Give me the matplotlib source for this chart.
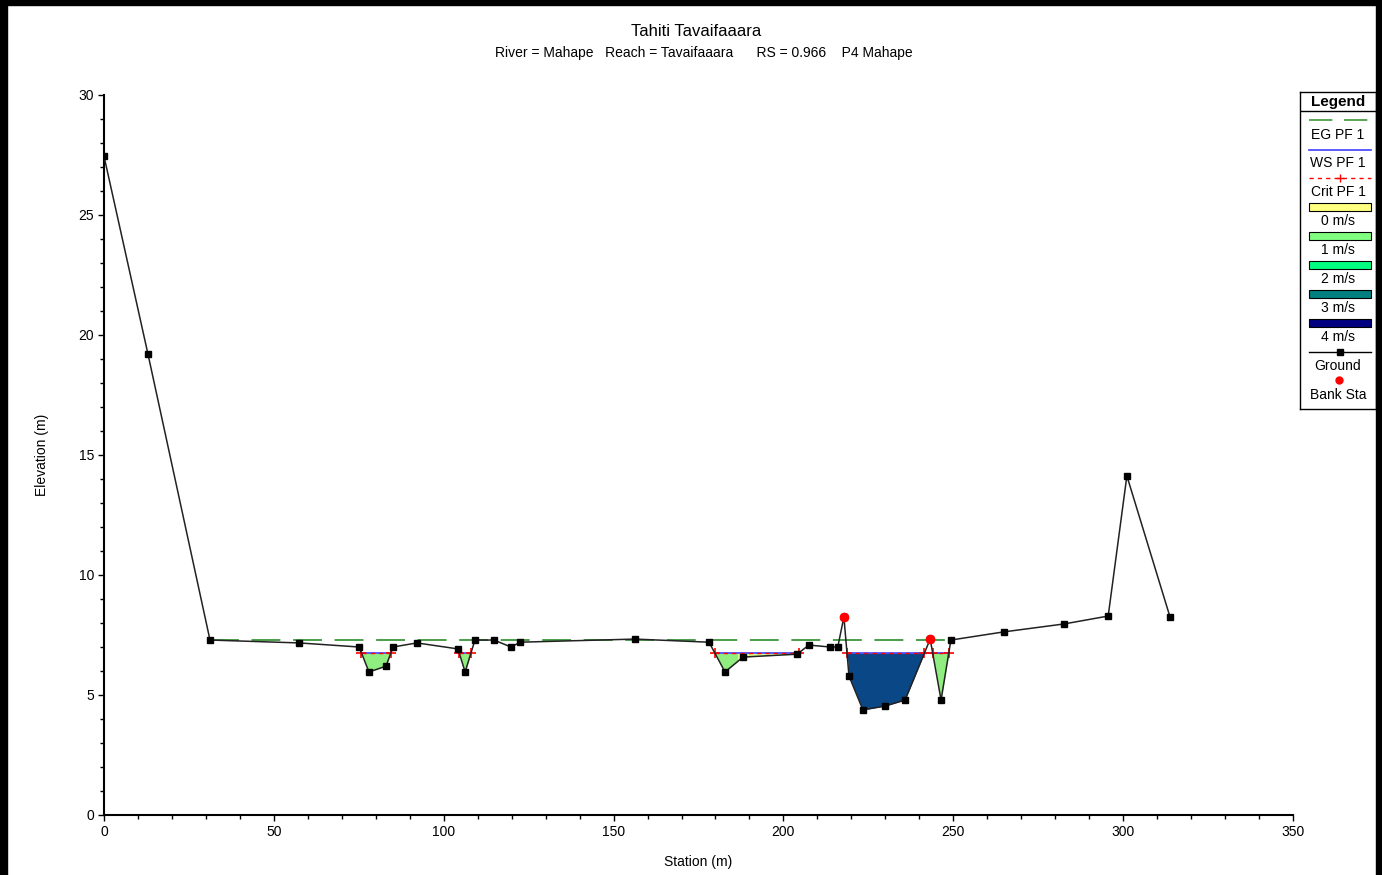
import numpy as np
import matplotlib.pyplot as plt
from matplotlib.patches import Rectangle

plt.rcParams['font.family'] = ['Liberation Sans', 'DejaVu Sans']

# ground profile
station = [0, 12.95, 31.2, 57.4, 75.1, 78.0, 83.0, 85.1, 92.1, 104.2, 106.3, 109.2,
           114.8, 119.8, 122.5, 156.3, 178.1, 182.8, 188.1, 204.0, 207.5, 213.7,
           216.0, 217.8, 219.3, 223.4, 229.9, 235.8, 243.2, 246.4, 249.3, 264.9,
           282.6, 295.6, 301.1, 313.8]
elev = [27.45, 19.2, 7.29, 7.17, 7.0, 5.96, 6.2, 7.0, 7.17, 6.92, 5.96, 7.29,
        7.29, 7.0, 7.2, 7.33, 7.2, 5.96, 6.58, 6.7, 7.08, 7.0,
        7.0, 8.25, 5.79, 4.38, 4.54, 4.79, 7.33, 4.79, 7.29, 7.63,
        7.96, 8.29, 14.13, 8.25]

bank_sta = [217.8, 243.2]
bank_elev = [8.25, 7.33]

eg_level = 7.29
eg_x = [31.2, 249.3]
ws_level = 6.75

# wetted areas: start, end, velocity band
pool_x0 = [74.0, 103.0, 177.0, 186.5, 218.5, 243.3]
pool_x1 = [87.0, 110.0, 186.5, 206.0, 243.2, 249.5]
pool_band = ['1 m/s', '1 m/s', '1 m/s', '0 m/s', '4 m/s', '1 m/s']
ws_x0 = [74.0, 103.0, 177.0, 218.5]
ws_x1 = [87.0, 110.0, 206.0, 249.5]

band_names = ['0 m/s', '1 m/s', '2 m/s', '3 m/s', '4 m/s']
band_colors = ['#ffff80', '#80ff80', '#00ff80', '#008080', '#000080']
fill_colors = {'0 m/s': '#d8ff90', '1 m/s': '#90ee80', '4 m/s': '#0a4786'}

fig = plt.figure(figsize=(13.82, 8.75), dpi=100)
ax = fig.add_axes([104 / 1382, 60 / 875, 1189 / 1382, 720 / 875])

for x0, x1, band in zip(pool_x0, pool_x1, pool_band):
    xx = np.linspace(x0, x1, 400)
    gg = np.interp(xx, station, elev)
    ax.fill_between(xx, gg, ws_level, where=gg < ws_level, interpolate=True,
                    color=fill_colors[band], lw=0, zorder=2)

ax.plot(eg_x, [eg_level, eg_level], color='#3c963c', lw=1.3,
        dashes=(16, 7), zorder=3)

for x0, x1 in zip(ws_x0, ws_x1):
    xx = np.linspace(x0, x1, 2000)
    gg = np.interp(xx, station, elev)
    wet = xx[gg <= ws_level]
    ax.plot([wet.min(), wet.max()], [ws_level, ws_level], color='#4040ff', lw=1.2, zorder=3)
    ax.plot([wet.min(), wet.max()], [ws_level, ws_level], color='red', lw=1.0,
            dashes=(3, 3), zorder=3.5)
    cross = xx[np.where(np.diff(np.sign(gg - ws_level)) != 0)[0]]
    ax.plot(cross, np.full(len(cross), ws_level), '+', color='red', ms=7, mew=1.2, zorder=4)

ax.plot(station, elev, color='#222222', lw=1.1, marker='s', ms=5,
        mfc='black', mec='black', zorder=5)
ax.plot(bank_sta, bank_elev, 'o', color='red', ms=6, zorder=6)

ax.set_xlim(0, 350)
ax.set_ylim(0, 30)
ax.set_xticks(range(0, 351, 50))
ax.set_xticks(range(0, 351, 10), minor=True)
ax.set_yticks(range(0, 31, 5))
ax.set_yticks(range(0, 31, 1), minor=True)
ax.tick_params(which='both', direction='out', labelsize=10, width=1)
ax.tick_params(which='major', length=4, pad=3)
ax.tick_params(which='minor', length=3)
for s in ['top', 'right']:
    ax.spines[s].set_visible(False)
for s in ['left', 'bottom']:
    ax.spines[s].set_linewidth(1.5)
ax.set_xlabel('Station (m)', fontsize=10, labelpad=12)
ax.set_ylabel('Elevation (m)', fontsize=10, labelpad=38)
ax.yaxis.set_label_coords(-55 / 1189, 0.5)

fig.text(696 / 1382, 1 - 32 / 875, 'Tahiti Tavaifaaara', ha='center', va='center', fontsize=12)
fig.text(704 / 1382, 1 - 53 / 875,
         'River = Mahape   Reach = Tavaifaaara      RS = 0.966    P4 Mahape',
         ha='center', va='center', fontsize=10)

# legend panel in pixel coordinates
lg = fig.add_axes([1300 / 1382, 1 - 409 / 875, 76 / 1382, 317 / 875])
lg.set_xlim(1300, 1376)
lg.set_ylim(409, 92)
lg.set_xticks([])
lg.set_yticks([])
for s in lg.spines.values():
    s.set_linewidth(1)
lg.text(1338, 102, 'Legend', ha='center', va='center', fontsize=11, fontweight='bold')
lg.plot([1300, 1376], [111, 111], color='black', lw=1)

lg.plot([1309, 1371], [120, 120], color='#3c963c', lw=1.2, dashes=(14, 7))
lg.text(1338, 135, 'EG PF 1', ha='center', va='center', fontsize=10)
lg.plot([1309, 1371], [150, 150], color='#4040ff', lw=1.2)
lg.text(1338, 163, 'WS PF 1', ha='center', va='center', fontsize=10)
lg.plot([1309, 1371], [178, 178], color='red', lw=1, dashes=(3, 3))
lg.plot([1340], [178], '+', color='red', ms=6)
lg.text(1338, 192, 'Crit PF 1', ha='center', va='center', fontsize=10)
for i, (name, col) in enumerate(zip(band_names, band_colors)):
    yy = 207 + i * 29
    lg.add_patch(Rectangle((1309, yy - 4), 62, 8, facecolor=col, edgecolor='black', lw=0.8))
    lg.text(1338, yy + 14, name, ha='center', va='center', fontsize=10)
lg.plot([1309, 1371], [352, 352], color='black', lw=1)
lg.plot([1340], [352], 's', color='black', ms=5)
lg.text(1338, 366, 'Ground', ha='center', va='center', fontsize=10)
lg.plot([1339], [380], 'o', color='red', ms=5)
lg.text(1338, 395, 'Bank Sta', ha='center', va='center', fontsize=10)

# window frame
fig.patches.append(Rectangle((0, 1 - 5 / 875), 1, 5 / 875, transform=fig.transFigure,
                             color='black', zorder=10))
fig.patches.append(Rectangle((0, 0), 7 / 1382, 1, transform=fig.transFigure,
                             color='black', zorder=10))
fig.patches.append(Rectangle((1 - 6 / 1382, 0), 6 / 1382, 1, transform=fig.transFigure,
                             color='black', zorder=10))

fig.savefig('out.png', dpi=100)
